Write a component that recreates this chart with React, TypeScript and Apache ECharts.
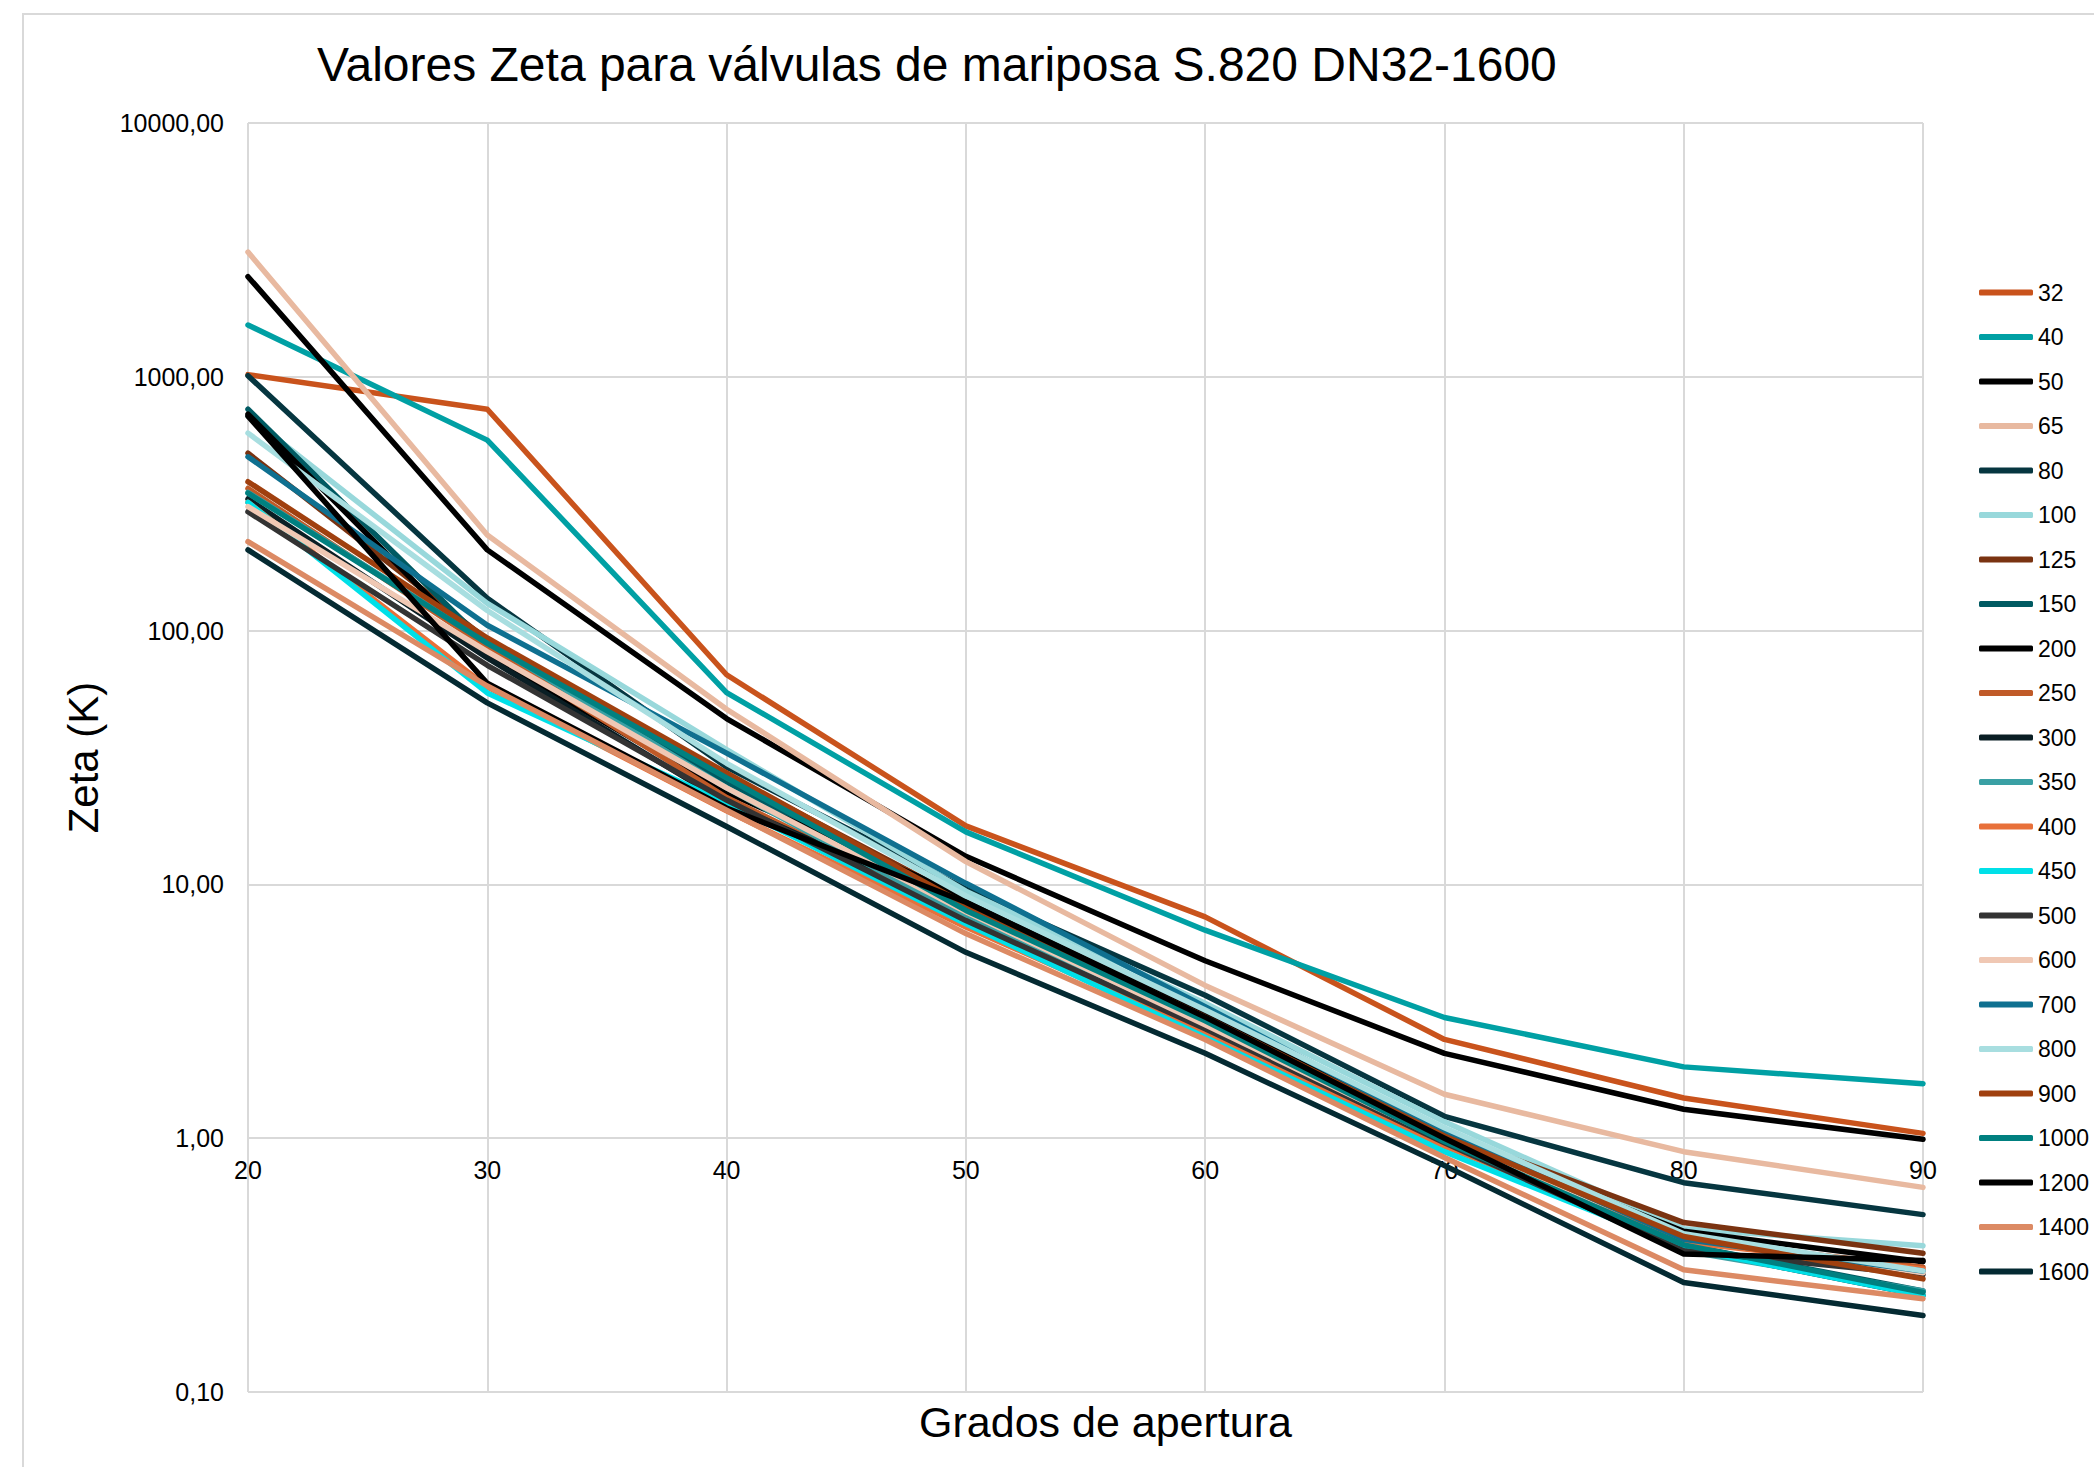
import React, { useEffect, useRef } from "react";
import * as echarts from "echarts";

const TITLE = "Valores Zeta para válvulas de mariposa S.820 DN32-1600";
const X_NAME = "Grados de apertura";
const Y_NAME = "Zeta (K)";

const angles = [20, 30, 40, 50, 60, 70, 80, 90];

const seriesNames = [
  "32", "40", "50", "65", "80", "100", "125", "150", "200", "250", "300", "350",
  "400", "450", "500", "600", "700", "800", "900", "1000", "1200", "1400", "1600",
];

const seriesColors = [
  "#c9531c", "#00a0a4", "#000000", "#e8b9a0", "#063640", "#98d8db", "#7a3311",
  "#005a62", "#000000", "#c05a28", "#0a1e24", "#3aa0a4", "#e8703a", "#00e0e8",
  "#333333", "#f0c8b4", "#0f7090", "#a8dee0", "#a0400f", "#008080", "#000000",
  "#dc8a64", "#042a32",
];

const dn32 = [1020, 745, 67, 17.0, 7.45, 2.45, 1.44, 1.045];
const dn40 = [1600, 563, 57, 16.1, 6.6, 2.99, 1.91, 1.64];
const dn50 = [2480, 208, 45, 12.9, 5.0, 2.16, 1.3, 0.99];
const dn65 = [3100, 238, 49, 12.3, 4.0, 1.49, 0.885, 0.64];
const dn80 = [1010, 134, 29, 9.6, 3.66, 1.22, 0.668, 0.5];
const dn100 = [700, 128, 34, 9.4, 3.4, 1.16, 0.44, 0.377];
const dn125 = [500, 92, 27, 8.6, 3.1, 1.05, 0.465, 0.352];
const dn150 = [745, 88, 25, 8.2, 3.0, 1.0, 0.38, 0.25];
const dn200 = [713, 80, 23, 8.9, 3.1, 1.02, 0.43, 0.326];
const dn250 = [363, 86, 22, 7.6, 2.8, 0.98, 0.4, 0.31];
const dn300 = [330, 78, 21, 8.0, 2.9, 1.0, 0.37, 0.24];
const dn350 = [350, 90, 24, 7.4, 2.7, 0.95, 0.36, 0.25];
const dn400 = [320, 60, 19.5, 6.8, 2.6, 0.93, 0.39, 0.305];
const dn450 = [320, 56.8, 20.9, 7.0, 2.5, 0.885, 0.37, 0.24];
const dn500 = [294, 73, 21.5, 7.2, 2.7, 0.96, 0.36, 0.29];
const dn600 = [308, 82.6, 24, 7.8, 2.8, 0.98, 0.41, 0.295];
const dn700 = [484, 105, 32.9, 10.1, 3.3, 1.05, 0.4, 0.3];
const dn800 = [600, 120, 30, 9.0, 3.2, 1.1, 0.42, 0.3];
const dn900 = [386, 93.5, 27.5, 8.3, 3.0, 1.02, 0.41, 0.279];
const dn1000 = [348, 89, 26.3, 7.9, 2.9, 0.97, 0.38, 0.247];
const dn1200 = [700, 62, 20, 8.5, 3.0, 1.0, 0.35, 0.33];
const dn1400 = [224, 60.5, 19.6, 6.4, 2.45, 0.84, 0.303, 0.233];
const dn1600 = [208, 51.9, 16.9, 5.4, 2.16, 0.78, 0.27, 0.2];

const seriesValues = [
  dn32, dn40, dn50, dn65, dn80, dn100, dn125, dn150, dn200, dn250, dn300, dn350,
  dn400, dn450, dn500, dn600, dn700, dn800, dn900, dn1000, dn1200, dn1400, dn1600,
];

const FONT = "'Liberation Sans', Arial, sans-serif";

export default function App() {
  const ref = useRef<HTMLDivElement>(null);

  useEffect(() => {
    if (!ref.current) return;
    const chart = echarts.init(ref.current, undefined, { renderer: "svg" });

    const series = seriesNames.map((name, i) => ({
      name,
      type: "line",
      xAxisIndex: 0,
      yAxisIndex: 0,
      symbol: "none",
      showSymbol: false,
      data: angles.map((a, j) => [a, seriesValues[i][j]]),
      lineStyle: { color: seriesColors[i], width: 5.5, cap: "round", join: "round" },
      itemStyle: { color: seriesColors[i] },
      emphasis: { disabled: true },
      z: 2,
    }));

    const option: any = {
      animation: false,
      backgroundColor: "#ffffff",
      textStyle: { fontFamily: FONT },
      title: {
        text: TITLE,
        left: 317,
        top: 40,
        padding: 0,
        textStyle: { fontSize: 48, fontWeight: "normal", color: "#000", fontFamily: FONT },
      },
      graphic: [
        {
          type: "rect",
          silent: true,
          z: -10,
          shape: { x: 23, y: 14, width: 2300, height: 1700 },
          style: { fill: "none", stroke: "#d9d9d9", lineWidth: 2 },
        },
      ],
      legend: {
        orient: "vertical",
        left: 1979,
        top: 281,
        padding: 0,
        icon: "roundRect",
        itemWidth: 54,
        itemHeight: 6,
        itemGap: 21.5,
        data: seriesNames,
        selectedMode: false,
        textStyle: { fontSize: 23, color: "#000", fontFamily: FONT },
      },
      grid: [
        { left: 248, right: 171, top: 123, bottom: 75, containLabel: false },
        { left: 248, right: 171, top: 123, bottom: 328, containLabel: false },
      ],
      xAxis: [
        {
          type: "value",
          gridIndex: 0,
          min: 20,
          max: 90,
          interval: 10,
          name: X_NAME,
          nameLocation: "middle",
          nameGap: 8,
          nameTextStyle: { fontSize: 43, color: "#000", fontFamily: FONT, padding: [0, 0, 0, 40] },
          axisLine: { show: false },
          axisTick: { show: false },
          axisLabel: { show: false },
          splitLine: { show: true, lineStyle: { color: "#d9d9d9", width: 2 } },
        },
        {
          type: "value",
          gridIndex: 1,
          min: 20,
          max: 90,
          interval: 10,
          axisLine: { show: false },
          axisTick: { show: false },
          splitLine: { show: false },
          axisLabel: { show: true, margin: 18, fontSize: 25, color: "#000", fontFamily: FONT },
        },
      ],
      yAxis: [
        {
          type: "log",
          logBase: 10,
          gridIndex: 0,
          min: 0.1,
          max: 10000,
          name: Y_NAME,
          nameLocation: "middle",
          nameGap: 144,
          nameRotate: 90,
          nameTextStyle: { fontSize: 42, color: "#000", fontFamily: FONT },
          axisLine: { show: false },
          axisTick: { show: false },
          axisLabel: {
            margin: 24,
            fontSize: 25,
            color: "#000",
            fontFamily: FONT,
            formatter: (v: number) => v.toFixed(2).replace(".", ","),
          },
          splitLine: { show: true, lineStyle: { color: "#d9d9d9", width: 2 } },
        },
        {
          type: "value",
          gridIndex: 1,
          min: 0,
          max: 1,
          show: false,
        },
      ],
      series,
    };

    chart.setOption(option);
    return () => chart.dispose();
  }, []);

  return (
    <div
      ref={ref}
      style={{ position: "absolute", left: 0, top: 0, width: 2094, height: 1467 }}
    />
  );
}
